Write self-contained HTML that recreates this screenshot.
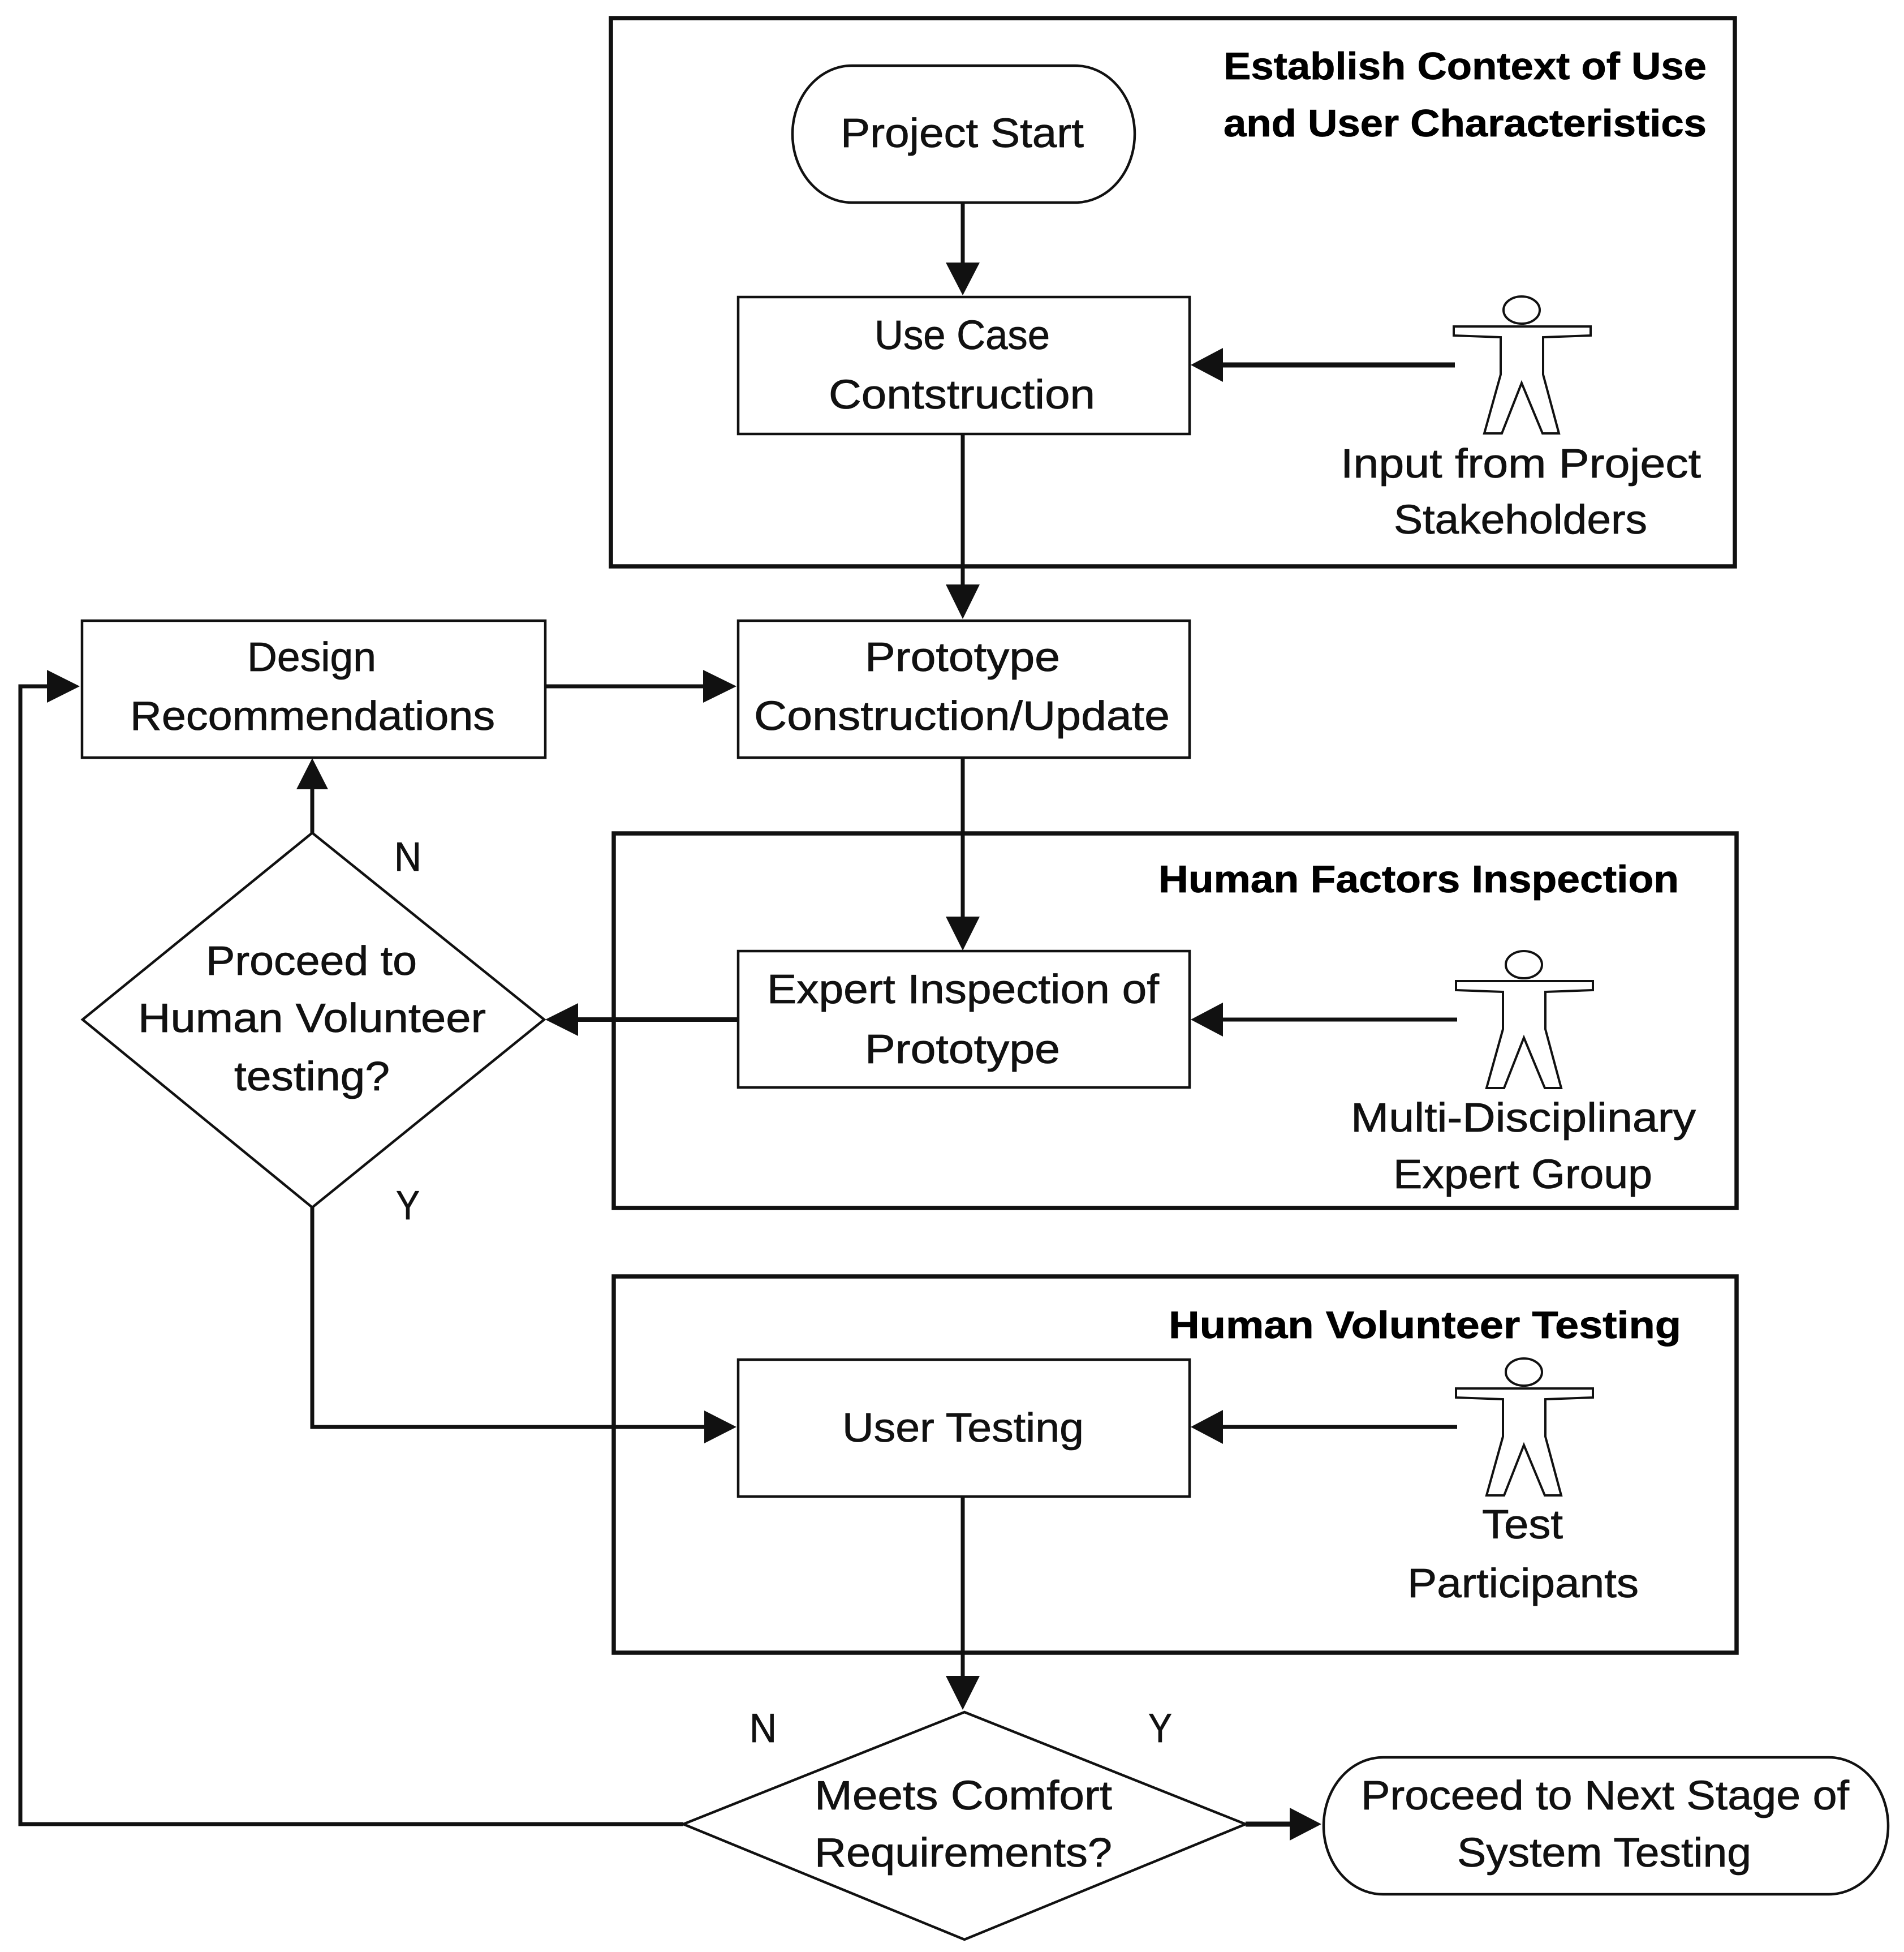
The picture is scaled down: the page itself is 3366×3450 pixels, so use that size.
<!DOCTYPE html>
<html><head><meta charset="utf-8"><style>
html,body{margin:0;padding:0;background:#fff}
svg{display:block}
text{font-family:"Liberation Sans",sans-serif;font-size:72px;fill:#111;stroke:#111;stroke-width:.8}
.b{font-weight:bold;font-size:68px;fill:#000;stroke:#000;stroke-width:.8}
.o{fill:none;stroke:#111;stroke-width:7.5}
.n{fill:#fff;stroke:#111;stroke-width:4.5}
.l{fill:none;stroke:#111;stroke-width:7}
.h{fill:#111}
.p{fill:#fff;stroke:#111;stroke-width:4}
</style></head><body>
<svg xmlns="http://www.w3.org/2000/svg" width="3366" height="3450" viewBox="0 0 3366 3450">
<rect width="3366" height="3450" fill="#fff"/>
<rect class="o" x="1080" y="32" width="1987" height="969"/>
<rect class="o" x="1085" y="1473" width="1985" height="662"/>
<rect class="o" x="1085" y="2256" width="1985" height="665"/>

<rect class="n" x="1401" y="116" width="605" height="242" rx="105" ry="121"/>
<rect class="n" x="1305" y="525" width="798" height="242"/>
<rect class="n" x="1305" y="1097" width="798" height="242"/>
<rect class="n" x="145" y="1097" width="819" height="242"/>
<rect class="n" x="1305" y="1681" width="798" height="241"/>
<rect class="n" x="1305" y="2403" width="798" height="242"/>
<polygon class="n" points="552,1472 962,1802 552,2134 146,1802"/>
<polygon class="n" points="1705,3026 2202,3224 1705,3428 1208,3224"/>
<rect class="n" x="2340" y="3106" width="998" height="242" rx="105" ry="121"/>

<g class="l">
<path d="M1702 358V470"/>
<path d="M1702 767V1040"/>
<path d="M1702 1339V1625"/>
<path d="M1702 2645V2968"/>
<path d="M2572 645H2155" stroke-width="9"/>
<path d="M964 1213H1250"/>
<path d="M552 1472V1390"/>
<path d="M1305 1802H1015" stroke-width="8"/>
<path d="M2576 1802H2155"/>
<path d="M552 2134V2522H1250"/>
<path d="M2576 2522H2155"/>
<path d="M1208 3224H36V1213H90"/>
<path d="M2202 3224H2290" stroke-width="9"/>
</g>

<g class="h">
<polygon points="1702,522 1672,464 1732,464"/>
<polygon points="1702,1094 1672,1033 1732,1033"/>
<polygon points="1702,1680 1672,1620 1732,1620"/>
<polygon points="1702,3022 1672,2962 1732,2962"/>
<polygon points="2105,645 2162,615 2162,675"/>
<polygon points="2105,1802 2162,1772 2162,1832"/>
<polygon points="2105,2522 2162,2492 2162,2552"/>
<polygon points="1302,1213 1243,1184 1243,1242"/>
<polygon points="141,1213 83,1184 83,1242"/>
<polygon points="552,1340 524,1395 580,1395"/>
<polygon points="964,1802 1022,1773 1022,1831"/>
<polygon points="1302,2522 1245,2493 1245,2551"/>
<polygon points="2336,3224 2280,3195 2280,3253"/>
</g>

<defs>
<g id="person">
<ellipse class="p" cx="2690" cy="548" rx="32" ry="24"/>
<path class="p" d="M2570 577H2812V593L2728 596V662L2756 766H2727L2690 677L2655 766H2624L2653 662V596L2570 593Z"/>
</g>
</defs>
<use href="#person"/>
<use href="#person" x="4" y="1157"/>
<use href="#person" x="4" y="1877"/>

<text class="b" x="2163" y="140" textLength="854" lengthAdjust="spacingAndGlyphs">Establish Context of Use</text>
<text class="b" x="2163" y="241" textLength="854" lengthAdjust="spacingAndGlyphs">and User Characteristics</text>
<text class="b" x="2048" y="1577" textLength="920" lengthAdjust="spacingAndGlyphs">Human Factors Inspection</text>
<text class="b" x="2066" y="2365" textLength="906" lengthAdjust="spacingAndGlyphs">Human Volunteer Testing</text>

<text x="1486" y="260" textLength="430" lengthAdjust="spacingAndGlyphs">Project Start</text>
<text x="1546" y="617" textLength="310" lengthAdjust="spacingAndGlyphs">Use Case</text>
<text x="1465" y="722" textLength="471" lengthAdjust="spacingAndGlyphs">Contstruction</text>
<text x="2370" y="844" textLength="637" lengthAdjust="spacingAndGlyphs">Input from Project</text>
<text x="2464" y="943" textLength="448" lengthAdjust="spacingAndGlyphs">Stakeholders</text>
<text x="437" y="1186" textLength="228" lengthAdjust="spacingAndGlyphs">Design</text>
<text x="230" y="1290" textLength="645" lengthAdjust="spacingAndGlyphs">Recommendations</text>
<text x="1529" y="1186" textLength="345" lengthAdjust="spacingAndGlyphs">Prototype</text>
<text x="1333" y="1290" textLength="735" lengthAdjust="spacingAndGlyphs">Construction/Update</text>
<text x="364" y="1723" textLength="373" lengthAdjust="spacingAndGlyphs">Proceed to</text>
<text x="244" y="1824" textLength="615" lengthAdjust="spacingAndGlyphs">Human Volunteer</text>
<text x="414" y="1927" textLength="275" lengthAdjust="spacingAndGlyphs">testing?</text>
<text x="1356" y="1773" textLength="693" lengthAdjust="spacingAndGlyphs">Expert Inspection of</text>
<text x="1529" y="1879" textLength="345" lengthAdjust="spacingAndGlyphs">Prototype</text>
<text x="2388" y="2000" textLength="610" lengthAdjust="spacingAndGlyphs">Multi-Disciplinary</text>
<text x="2463" y="2100" textLength="458" lengthAdjust="spacingAndGlyphs">Expert Group</text>
<text x="1489" y="2548" textLength="427" lengthAdjust="spacingAndGlyphs">User Testing</text>
<text x="2620" y="2719" textLength="143" lengthAdjust="spacingAndGlyphs">Test</text>
<text x="2488" y="2823" textLength="409" lengthAdjust="spacingAndGlyphs">Participants</text>
<text x="1440" y="3198" textLength="526" lengthAdjust="spacingAndGlyphs">Meets Comfort</text>
<text x="1440" y="3299" textLength="526" lengthAdjust="spacingAndGlyphs">Requirements?</text>
<text x="2406" y="3198" textLength="863" lengthAdjust="spacingAndGlyphs">Proceed to Next Stage of</text>
<text x="2576" y="3299" textLength="520" lengthAdjust="spacingAndGlyphs">System Testing</text>
<text x="697" y="1539" textLength="48" lengthAdjust="spacingAndGlyphs">N</text>
<text x="700" y="2155" textLength="42" lengthAdjust="spacingAndGlyphs">Y</text>
<text x="1325" y="3079" textLength="48" lengthAdjust="spacingAndGlyphs">N</text>
<text x="2030" y="3079" textLength="42" lengthAdjust="spacingAndGlyphs">Y</text>
</svg>
</body></html>
